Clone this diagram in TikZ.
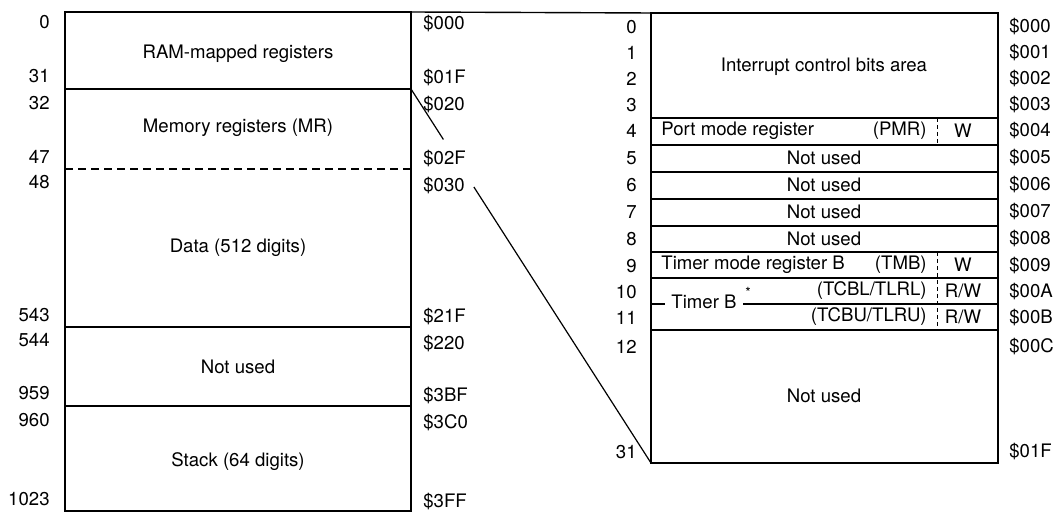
\documentclass[tikz,border=0pt]{standalone}
\usepackage{fontspec}
\setmainfont{TeX Gyre Heros}
\usetikzlibrary{positioning}

\begin{document}
\begin{tikzpicture}[x=0.5pt,y=-0.5pt,
  every node/.style={font=\fontsize{9.3}{11}\selectfont,inner sep=1pt},
  mapline/.style={line width=0.85pt},
  rowline/.style={line width=0.7pt},
  splitline/.style={line width=0.6pt,dash pattern=on 4pt off 2.5pt},
  rwsep/.style={line width=0.5pt,dash pattern=on 2pt off 1.5pt},
  declab/.style={anchor=east},
  hexlab/.style={anchor=west},
  area/.style={align=center}
]
\useasboundingbox (0,0) rectangle (1056,512);

% RAM address space (left)
\draw[mapline] (65,12) rectangle (411,511);
\draw[rowline] (65,89) -- (411,89);
\draw[splitline] (65,169) -- (411,169);
\draw[rowline] (65,327) -- (411,327);
\draw[rowline] (65,406) -- (411,406);

\node[area] (ramreg) at (238,54) {RAM-mapped registers};
\node[area] (memreg) at (238,128) {Memory registers (MR)};
\node[area] (data) at (238,248) {Data (512 digits)};
\node[area] (unused) at (238,367) {Not used};
\node[area] (stack) at (238,462) {Stack (64 digits)};

\foreach \v/\y in {0/22,31/76,32/103,47/157,48/182,543/315,544/340,959/393,960/420,1023/499}
  \node[declab] (dl\v) at (52,\y) {\v};
\foreach \h/\y in {000/24,01F/78,020/105,02F/159,030/186,21F/317,220/344,3BF/396,3C0/423,3FF/502}
  \node[hexlab] (hl\h) at (421,\y) {\$\h};

% RAM-mapped registers (right)
\draw[mapline] (651,13) rectangle (998,463);
\foreach \y in {118,145,172,199,226,252,278,304,330}
  \draw[rowline] (651,\y) -- (998,\y);
\draw[rwsep] (937,118) -- (937,145);
\draw[rwsep] (937,252) -- (937,330);

\node[area] (intbits) at (824,67) {Interrupt control bits area};
\node[anchor=west] (pmr) at (659,131) {Port mode register};
\node[anchor=east] (pmrab) at (929,131) {(PMR)};
\node (pmrrw) at (963,131) {W};
\node (nu5) at (824,158) {Not used};
\node (nu6) at (824,185) {Not used};
\node (nu7) at (824,212) {Not used};
\node (nu8) at (824,239) {Not used};
\node[anchor=west] (tmb) at (659,265) {Timer mode register B};
\node[anchor=east] (tmbab) at (929,265) {(TMB)};
\node (tmbrw) at (963,265) {W};
\node[fill=white,inner xsep=3pt] (timerb) at (704,302) {Timer B};
\node[font=\fontsize{7}{8}\selectfont] (note) at (748,292) {*};
\node[anchor=east] (tcbl) at (929,291) {(TCBL/TLRL)};
\node (tcblrw) at (963,291) {R/W};
\node[anchor=east] (tcbu) at (929,317) {(TCBU/TLRU)};
\node (tcburw) at (963,317) {R/W};
\node[area] (nurest) at (824,396) {Not used};

\foreach \v/\y in {0/27,1/53,2/79,3/105,4/131,5/158,6/185,7/212,8/239,9/266,10/292,11/318,12/347,31/452}
  \node[declab] (rl\v) at (639,\y) {\v};
\foreach \h/\y in {000/27,001/53,002/79,003/105,004/131,005/158,006/185,007/212,008/239,009/266,00A/292,00B/318,00C/347,01F/452}
  \node[hexlab] (rh\h) at (1007,\y) {\$\h};

% zoom lines
\coordinate (ltop) at (411,12);
\coordinate (rtop) at (651,13);
\coordinate (lsplit) at (411,89);
\coordinate (rbot) at (651,463);
\draw[rowline] (ltop) -- (rtop);
\path (lsplit) -- (rbot) coordinate[pos=0.135] (gapa) coordinate[pos=0.262] (gapb);
\draw[line width=0.6pt] (lsplit) -- (gapa);
\draw[line width=0.6pt] (gapb) -- (rbot);
\end{tikzpicture}
\end{document}
